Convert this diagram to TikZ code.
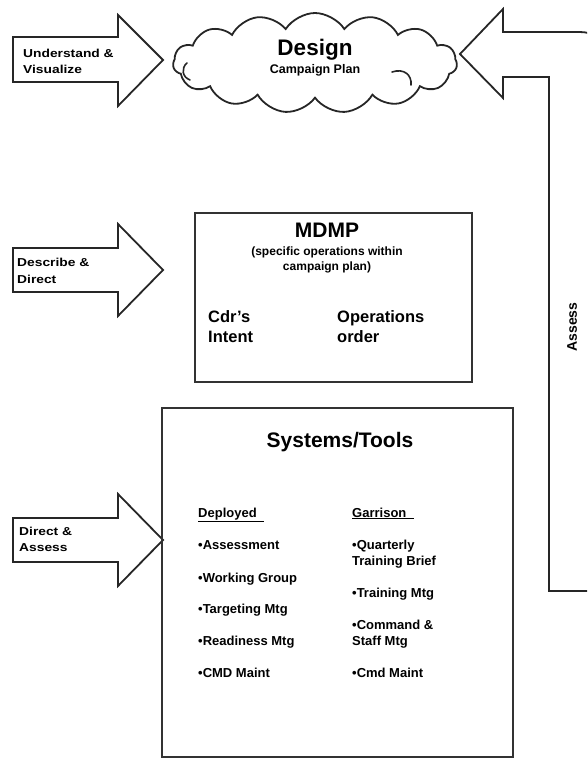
\documentclass[tikz,border=0pt]{standalone}
\usepackage{fontspec}
\setmainfont{Liberation Sans}
\newfontfamily\wfont[FakeStretch=1.2]{Liberation Sans}
\usetikzlibrary{shapes.symbols}
\tikzset{
  fat/.style={draw=black!85, line width=1.8pt, line join=miter},
  thinline/.style={draw=black!85, line width=1.6pt, line cap=round},
  boxstyle/.style={draw=black!80, line width=2.3pt, inner sep=0, fill=none},
  txt/.style={inner sep=0, anchor=base west, font=\bfseries},
  ctxt/.style={inner sep=0, anchor=base, font=\bfseries},
  arrlbl/.style={inner sep=0, anchor=base west, font=\wfont\bfseries\fontsize{11.5}{13}\selectfont},
  item/.style={txt, font=\bfseries\fontsize{13}{15}\selectfont},
}
\begin{document}
\begin{tikzpicture}[x=1pt,y=-1pt]
\useasboundingbox (0,0) rectangle (587,759);
\clip (0,0) rectangle (587,759);

% Left arrows
\draw[fat] (13,37) -- (118,37) -- (118,15) -- (163,60) -- (118,106) -- (118,82) -- (13,82) -- cycle;
\draw[fat] (13,248) -- (118,248) -- (118,224) -- (163,270) -- (118,316) -- (118,292) -- (13,292) -- cycle;
\draw[fat] (13,518) -- (118,518) -- (118,494) -- (163,540) -- (118,586) -- (118,562) -- (13,562) -- cycle;

\node[arrlbl] (u1) at (23,58) {Understand \&};
\node[arrlbl] (u2) at (23,74) {Visualize};
\node[arrlbl] (d1) at (17,266) {Describe \&};
\node[arrlbl] (d2) at (17,283) {Direct};
\node[arrlbl] (a1) at (19,535) {Direct \&};
\node[arrlbl] (a2) at (19,551) {Assess};

% Cloud
\node[cloud, draw=black!85, line width=1.8pt, cloud puffs=15, cloud puff arc=115, aspect=2.9,
      minimum width=284pt, minimum height=100pt, inner sep=0] (cloud) at (315,63) {};
\draw[thinline] (392,72) .. controls (404,68) and (412,75) .. (411,85);
\draw[thinline] (190,80) .. controls (182,77) and (181,68) .. (187,63);
\node[ctxt, font=\bfseries\fontsize{22.5}{26}\selectfont] (design) at (315,56) {Design};
\node[ctxt, font=\bfseries\fontsize{12.5}{14}\selectfont] (camp) at (315,74) {Campaign Plan};

% Assess arrow
\draw[fat] (592,650) -- (592,50) .. controls (592,32) .. (574,32) -- (503,32) -- (503,9) -- (460,54) -- (503,98) -- (503,77) -- (549,77) -- (549,591) -- (600,591);
\node[inner sep=0, rotate=90, font=\bfseries\fontsize{14}{16}\selectfont] (assess) at (572,327) {Assess};

% MDMP box
\node[boxstyle, minimum width=277pt, minimum height=169pt] (mbox) at (333.5,297.5) {};
\node[ctxt, font=\bfseries\fontsize{21}{24}\selectfont] (mdmp) at (327,237) {MDMP};
\node[ctxt, font=\bfseries\fontsize{12}{14}\selectfont] (spec1) at (327,255) {(specific operations within};
\node[ctxt, font=\bfseries\fontsize{12}{14}\selectfont] (spec2) at (327,270) {campaign plan)};
\node[txt, font=\bfseries\fontsize{16.5}{19}\selectfont] (cdr) at (208,322) {Cdr’s};
\node[txt, font=\bfseries\fontsize{16.5}{19}\selectfont] (intent) at (208,342) {Intent};
\node[txt, font=\bfseries\fontsize{16.5}{19}\selectfont] (ops) at (337,322) {Operations};
\node[txt, font=\bfseries\fontsize{16.5}{19}\selectfont] (order) at (337,342) {order};

% Systems box
\node[boxstyle, minimum width=351pt, minimum height=349pt] (sbox) at (337.5,582.5) {};
\node[ctxt, font=\bfseries\fontsize{21}{24}\selectfont] (sys) at (340,447) {Systems/Tools};

\node[item] (dep) at (198,517) {\underline{Deployed\ \ }};
\node[item] (i1) at (198,549) {•Assessment};
\node[item] (i2) at (198,582) {•Working Group};
\node[item] (i3) at (198,613) {•Targeting Mtg};
\node[item] (i4) at (198,645) {•Readiness Mtg};
\node[item] (i5) at (198,677) {•CMD Maint};

\node[item] (gar) at (352,517) {\underline{Garrison\ \ }};
\node[item] (g1) at (352,549) {•Quarterly};
\node[item] (g1b) at (352,565) {Training Brief};
\node[item] (g2) at (352,597) {•Training Mtg};
\node[item] (g3) at (352,629) {•Command \&};
\node[item] (g3b) at (352,645) {Staff Mtg};
\node[item] (g4) at (352,677) {•Cmd Maint};
\end{tikzpicture}
\end{document}
